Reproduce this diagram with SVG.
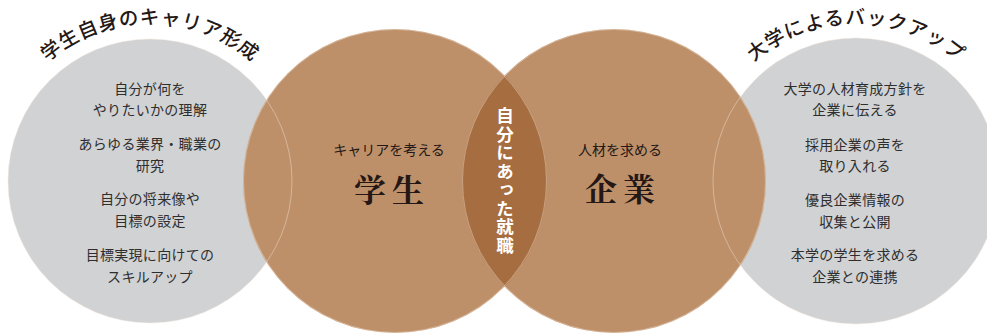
<svg xmlns="http://www.w3.org/2000/svg" width="987" height="334" viewBox="0 0 987 334">
  <style>
    .gray { fill: #d1d2d4; }
    .brown { fill: #be9069; }
    .lens { fill: #a66d40; }
    .rim { fill: none; stroke: #f3e6d9; stroke-opacity: 0.55; stroke-width: 0.8; }
    .item { font-family: "Noto Sans CJK JP", "Noto Sans", sans-serif; font-size: 14px; fill: #2e2e2e; text-anchor: middle; letter-spacing: 0.3px; }
    .title { font-family: "Noto Sans CJK JP", "Noto Sans", sans-serif; font-size: 19.5px; font-weight: 500; fill: #231815; letter-spacing: 0.8px; }
    .sub { font-family: "Noto Sans CJK JP", "Noto Sans", sans-serif; font-size: 14px; fill: #231815; text-anchor: middle; }
    .big { font-family: "Noto Serif CJK JP", "Noto Sans CJK JP", serif; font-size: 32px; font-weight: bold; fill: #231815; text-anchor: middle; letter-spacing: 6px; }
    .vert { font-family: "Noto Sans CJK JP", "Noto Sans", sans-serif; font-size: 17.5px; font-weight: bold; fill: #ffffff; text-anchor: middle; writing-mode: vertical-rl; letter-spacing: 1px; }
  </style>
  <defs>
    <path id="arcL" d="M14,102.5 A157,157 0 0 1 286,102.5"/>
    <path id="arcR" d="M720,102.5 A157,157 0 0 1 992,102.5"/>
  </defs>

  <g id="career">
    <circle class="gray" cx="150" cy="181" r="142"/>
    <text class="title"><textPath href="#arcL" startOffset="50%" text-anchor="middle">学生自身のキャリア形成</textPath></text>
    <text class="item" x="150" y="94">自分が何を</text>
    <text class="item" x="150" y="115">やりたいかの理解</text>
    <text class="item" x="150" y="149" letter-spacing="-0.2">あらゆる業界・職業の</text>
    <text class="item" x="150" y="171">研究</text>
    <text class="item" x="150" y="204">自分の将来像や</text>
    <text class="item" x="150" y="226">目標の設定</text>
    <text class="item" x="150" y="260">目標実現に向けての</text>
    <text class="item" x="150" y="282">スキルアップ</text>
  </g>

  <g id="backup">
    <circle class="gray" cx="856" cy="181" r="143"/>
    <text class="title"><textPath href="#arcR" startOffset="50%" text-anchor="middle">大学によるバックアップ</textPath></text>
    <text class="item" x="855" y="94">大学の人材育成方針を</text>
    <text class="item" x="855" y="115">企業に伝える</text>
    <text class="item" x="855" y="150">採用企業の声を</text>
    <text class="item" x="855" y="171">取り入れる</text>
    <text class="item" x="855" y="205">優良企業情報の</text>
    <text class="item" x="855" y="227">収集と公開</text>
    <text class="item" x="855" y="260">本学の学生を求める</text>
    <text class="item" x="855" y="282">企業との連携</text>
  </g>

  <g id="student">
    <circle class="brown" cx="395" cy="181" r="152"/>
    <text class="sub" x="389" y="155">キャリアを考える</text>
    <text class="big" x="392" y="202">学生</text>
  </g>

  <g id="company">
    <circle class="brown" cx="614" cy="181" r="152"/>
    <text class="sub" x="620" y="155">人材を求める</text>
    <text class="big" x="623" y="201">企業</text>
  </g>

  <g id="match">
    <path class="lens" d="M504.5,75.6 A152,152 0 0 1 504.5,286.4 A152,152 0 0 1 504.5,75.6 Z"/>
    <text class="vert" x="505" y="181">自分にあった就職</text>
  </g>

  <g id="outlines">
    <circle class="rim" cx="150" cy="181" r="142"/>
    <circle class="rim" cx="856" cy="181" r="143"/>
    <circle class="rim" cx="395" cy="181" r="151.5"/>
    <circle class="rim" cx="614" cy="181" r="151.5"/>
  </g>
</svg>
